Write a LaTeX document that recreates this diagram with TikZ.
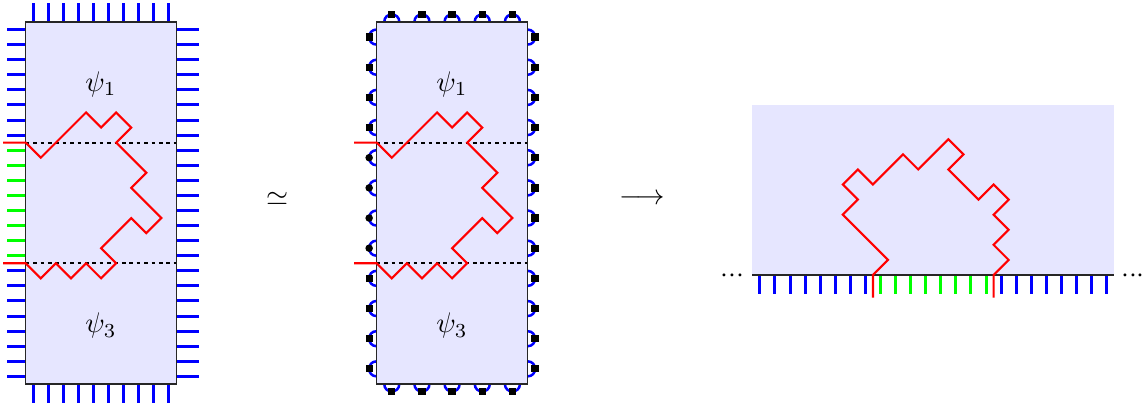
\documentclass[tikz,border=0pt]{standalone}
\definecolor{panel}{HTML}{E6E6FF}
\tikzset{
  panelfill/.style={fill=panel,draw=none},
  boxline/.style={draw=black!85,line width=1.3pt},
  cutline/.style={black,line width=1.9pt,dash pattern=on 3.7pt off 3.7pt},
  redline/.style={red,line width=2.1pt,line join=miter},
  bluestub/.style={blue,line width=3pt},
  greenstub/.style={green,line width=3pt},
  loopline/.style={blue,line width=2.5pt},
  biglabel/.style={scale=2.84,inner sep=0pt},
  unitgrid/.style={x=15.08pt,y=-15.08pt}
}
\newcommand{\boxbody}[1]{%
  \fill[panelfill] (0,0) rectangle (10,24);
  \draw[cutline] (0,8) -- (10,8);
  \draw[cutline] (0,16) -- (10,16);
  \draw[boxline] (0,0) rectangle (10,24);
  \draw[redline] (-1.5,8) -- (0,8) -- (1,9) -- (4,6) -- (5,7) -- (6,6) -- (7,7) -- (6,8) -- (8,10) -- (7,11) -- (9,13) -- (8,14) -- (7,13) -- (5,15) -- (6,16) -- (5,17) -- (4,16) -- (3,17) -- (2,16) -- (1,17) -- (0,16) -- (-1.5,16);
  \node[biglabel] (#1a) at (5,4.15) {$\psi_1$};
  \node[biglabel] (#1b) at (5,20.15) {$\psi_3$};
}
\begin{document}
\begin{tikzpicture}[x=1pt,y=-1pt]
\useasboundingbox (0,0) rectangle (1145,409);
% left box
\begin{scope}[shift={(25.7,22)},unitgrid]
  \foreach \i in {0,...,9} {
    \draw[bluestub] (\i+.5,0) -- (\i+.5,-1.25);
    \draw[bluestub] (\i+.5,24) -- (\i+.5,25.25);
  }
  \foreach \i in {0,...,23} {
    \draw[bluestub] (10,\i+.5) -- (11.5,\i+.5);
  }
  \foreach \i in {0,...,7,16,17,...,23} {
    \draw[bluestub] (0,\i+.5) -- (-1.25,\i+.5);
  }
  \foreach \i in {8,...,15} {
    \draw[greenstub] (0,\i+.5) -- (-1.25,\i+.5);
  }
  \boxbody{l}
\end{scope}
% middle box
\begin{scope}[shift={(376.7,22)},unitgrid]
  \foreach \i in {1,3,5,7,9} {
    \draw[loopline] (\i-.5,0) .. controls (\i-.5,-.667) and (\i+.5,-.667) .. (\i+.5,0);
    \draw[loopline] (\i-.5,24) .. controls (\i-.5,24.667) and (\i+.5,24.667) .. (\i+.5,24);
    \fill (\i-.24,-.74) rectangle (\i+.24,-.26);
    \fill (\i-.24,24.26) rectangle (\i+.24,24.74);
  }
  \foreach \i in {1,3,...,23} {
    \draw[loopline] (0,\i-.5) .. controls (-.667,\i-.5) and (-.667,\i+.5) .. (0,\i+.5);
    \draw[loopline] (10,\i-.5) .. controls (10.667,\i-.5) and (10.667,\i+.5) .. (10,\i+.5);
    \fill (10.26,\i-.24) rectangle (10.74,\i+.24);
  }
  \foreach \i in {1,3,5,7,17,19,21,23} {
    \fill (-.74,\i-.24) rectangle (-.26,\i+.24);
  }
  \foreach \i in {9,11,13,15} {
    \fill (-.5,\i) circle[radius=.25];
  }
  \boxbody{m}
\end{scope}
% relation symbols
\node[biglabel] (sim) at (278,199) {$\simeq$};
\node[biglabel] (arrow) at (642,199.7) {$\longrightarrow$};
% right panel
\fill[panelfill] (752.3,105) rectangle (1114.3,275);
\begin{scope}[shift={(752.3,275)},x=15.08pt,y=15.08pt]
  \foreach \i in {0,...,7,16,17,...,23} {
    \draw[bluestub] (\i+.5,0) -- (\i+.5,-1.25);
  }
  \foreach \i in {8,...,15} {
    \draw[greenstub] (\i+.5,0) -- (\i+.5,-1.25);
  }
  \draw[boxline] (0,0) -- (24,0);
  \draw[redline] (8,-1.5) -- (8,0) -- (9,1) -- (6,4) -- (7,5) -- (6,6) -- (7,7) -- (8,6) -- (10,8) -- (11,7) -- (13,9) -- (14,8) -- (13,7) -- (15,5) -- (16,6) -- (17,5) -- (16,4) -- (17,3) -- (16,2) -- (17,1) -- (16,0) -- (16,-1.5);
\end{scope}
\node[biglabel] (dotsl) at (732.5,276.5) {${\cdot}{\cdot}{\cdot}$};
\node[biglabel] (dotsr) at (1133,276.5) {${\cdot}{\cdot}{\cdot}$};
\end{tikzpicture}
\end{document}
